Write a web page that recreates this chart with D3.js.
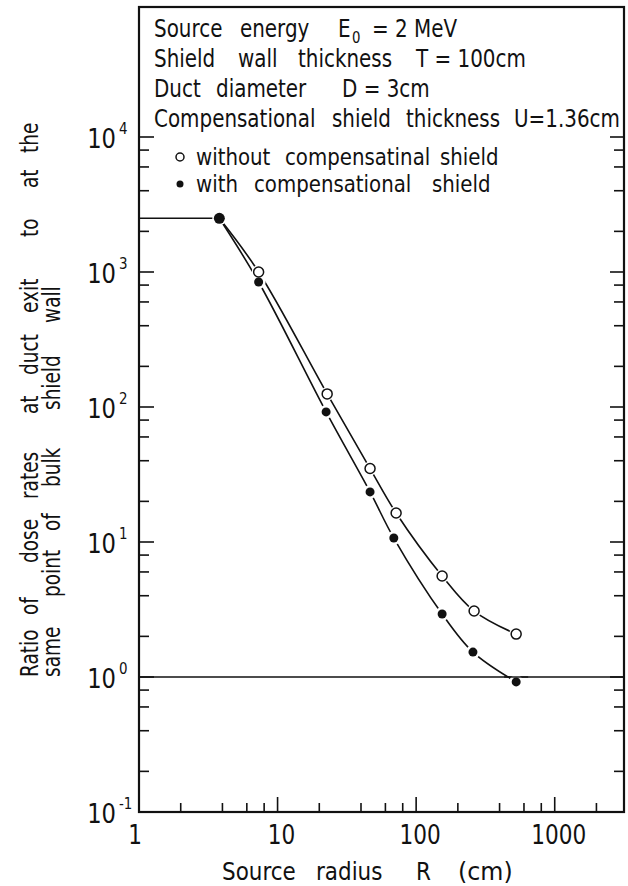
<!DOCTYPE html>
<html lang="en">
<head>
<meta charset="UTF-8">
<title>Duct streaming ratio vs source radius</title>
<script src="https://d3js.org/d3.v7.min.js"></script>
<style>
    body { margin: 0; background: #fff; }
    svg text { font-family: "DejaVu Sans", "Liberation Sans", sans-serif; fill: #111; }
</style>
</head>
<body>
<svg width="628" height="886"></svg>
<script>
    // values
    const radiusOpen   = [3.8, 7.3, 22.8, 46.5, 71.7, 154, 262, 527];
    const ratioOpen    = [2500, 1000, 125, 35, 16.4, 5.6, 3.08, 2.08];
    const radiusFilled = [3.8, 7.3, 22.4, 46.5, 69, 154, 257, 527];
    const ratioFilled  = [2500, 843, 92, 23.5, 10.7, 2.93, 1.53, 0.92];
    const plateauR     = [1, 3.8];
    const plateauV     = [2500, 2500];
    const unityLine    = 1;

    const xMajor = [1, 10, 100, 1000];
    const xMinor = [2, 4, 6, 8, 20, 40, 60, 80, 200, 400, 600, 800, 2000];
    const yMajor = [-1, 0, 1, 2, 3, 4];          // exponents
    const yMinorMant = [2, 4, 6, 8];

    let svg = d3.select("svg");
    const frameL = 139, frameR = 624, frameT = 7, frameB = 812;

    const x = d3.scaleLog().domain([1, Math.pow(10, 3.5)]).range([frameL, frameR]);
    const y = d3.scaleLog().domain([0.1, Math.pow(10, -1 + (frameB - frameT) / 135)]).range([frameB, frameT]);

    // condensed text: the original lettering is tall and narrow
    function word(g, str, px, py, size, k, anchor) {
        return g.append("text")
            .attr("transform", "translate(" + px + "," + py + ") scale(" + k + ",1)")
            .attr("font-size", size)
            .attr("text-anchor", anchor || "start")
            .text(str);
    }

    // frame
    svg.append("rect")
        .attr("x", frameL).attr("y", frameT)
        .attr("width", frameR - frameL).attr("height", frameB - frameT)
        .attr("fill", "none").attr("stroke", "#111").attr("stroke-width", 2.2);

    // y ticks, both sides
    let yTicks = [];
    yMajor.forEach(function (e) {
        yTicks.push({ v: Math.pow(10, e), major: true });
        if (e < 4) yMinorMant.forEach(function (m) { yTicks.push({ v: m * Math.pow(10, e), major: false }); });
    });
    svg.append("g").selectAll("line").data(yTicks).enter().append("line")
        .attr("x1", frameL).attr("x2", function (d) { return frameL + (d.major ? 15 : 10); })
        .attr("y1", function (d) { return y(d.v); }).attr("y2", function (d) { return y(d.v); })
        .attr("stroke", "#111").attr("stroke-width", 1.6);
    svg.append("g").selectAll("line").data(yTicks).enter().append("line")
        .attr("x1", frameR).attr("x2", function (d) { return frameR - (d.major ? 14 : 10); })
        .attr("y1", function (d) { return y(d.v); }).attr("y2", function (d) { return y(d.v); })
        .attr("stroke", "#111").attr("stroke-width", 1.6);

    // x ticks
    let xTicks = xMajor.map(function (v) { return { v: v, major: true }; })
        .concat(xMinor.map(function (v) { return { v: v, major: false }; }));
    svg.append("g").selectAll("line").data(xTicks).enter().append("line")
        .attr("x1", function (d) { return x(d.v); }).attr("x2", function (d) { return x(d.v); })
        .attr("y1", frameB).attr("y2", function (d) { return frameB - (d.major ? 15 : 9); })
        .attr("stroke", "#111").attr("stroke-width", 1.6);

    // y tick labels 10^n
    const yl = svg.append("g");
    yMajor.forEach(function (e) {
        const py = y(Math.pow(10, e));
        word(yl, "10", 116, py + 11, 27, 0.84, "end");
        word(yl, e < 0 ? "-1" : String(e), 119, py - 3, 16, 0.84);
    });

    // x tick labels
    const xl = svg.append("g");
    xMajor.forEach(function (v) {
        word(xl, String(v), x(v) + (v === 1 ? -4 : 4), 844, 27, 0.8, "middle");
    });

    // axis titles
    const xt = svg.append("g");
    word(xt, "Source", 222, 880, 25, 0.86);
    word(xt, "radius", 316, 880, 25, 0.86);
    word(xt, "R", 416, 880, 25, 0.86);
    word(xt, "(cm)", 458, 880, 25, 0.95);

    // y title words: [text, lower end along the axis]
    const yLine1 = [["Ratio", 677], ["of", 615], ["dose", 563], ["rates", 499],
        ["at", 414], ["duct", 375], ["exit", 313], ["to", 237], ["at", 188], ["the", 153]];
    const yLine2 = [["same", 677], ["point", 597], ["of", 531], ["bulk", 487],
        ["shield", 410], ["wall", 323]];
    const yt = svg.append("g").attr("transform", "rotate(-90)");
    yLine1.forEach(function (w) { word(yt, w[0], -w[1], 38, 25, 0.74); });
    yLine2.forEach(function (w) { word(yt, w[0], -w[1], 60, 25, 0.74); });

    // info box text
    const info = svg.append("g");
    const k = 0.83;
    word(info, "Source", 154, 37, 24, k);
    word(info, "energy", 240, 37, 24, k);
    word(info, "E", 338, 37, 24, k);
    word(info, "0", 352, 43, 16, k);
    word(info, "= 2 MeV", 372, 37, 24, k);

    word(info, "Shield", 154, 67, 24, k);
    word(info, "wall", 238, 67, 24, k);
    word(info, "thickness", 298, 67, 24, k);
    word(info, "T = 100cm", 416, 67, 24, k);

    word(info, "Duct", 154, 97, 24, k);
    word(info, "diameter", 216, 97, 24, k);
    word(info, "D = 3cm", 342, 97, 24, k);

    word(info, "Compensational", 154, 127, 24, k);
    word(info, "shield", 332, 127, 24, k);
    word(info, "thickness", 406, 127, 24, k);
    word(info, "U=1.36cm", 514, 127, 24, k);

    // legend
    word(info, "without", 196, 165, 23, 0.86);
    word(info, "compensatinal", 285, 165, 23, 0.86);
    word(info, "shield", 440, 165, 23, 0.86);
    word(info, "with", 196, 192, 23, 0.86);
    word(info, "compensational", 254, 192, 23, 0.86);
    word(info, "shield", 432, 192, 23, 0.86);
    info.append("circle").attr("cx", 180).attr("cy", 157).attr("r", 4)
        .attr("fill", "#fff").attr("stroke", "#111").attr("stroke-width", 1.5);
    info.append("circle").attr("cx", 180).attr("cy", 184).attr("r", 3.5).attr("fill", "#111");

    // reference line at ratio 1 and plateau
    svg.append("line")
        .attr("x1", frameL).attr("x2", frameR)
        .attr("y1", y(unityLine)).attr("y2", y(unityLine))
        .attr("stroke", "#111").attr("stroke-width", 1.4);

    const plateau = plateauR.map(function (r, i) { return { r: r, v: plateauV[i] }; });
    const open = radiusOpen.map(function (r, i) { return { r: r, v: ratioOpen[i] }; });
    const filled = radiusFilled.map(function (r, i) { return { r: r, v: ratioFilled[i] }; });

    const line = d3.line()
        .x(function (d) { return x(d.r); })
        .y(function (d) { return y(d.v); })
        .curve(d3.curveCatmullRom.alpha(0.5));

    [plateau, open, filled].forEach(function (s) {
        svg.append("path").attr("d", line(s))
            .attr("fill", "none").attr("stroke", "#111").attr("stroke-width", 1.6);
    });

    // white halo so the curves stop short of each marker
    const allPts = open.slice(1).concat(filled);
    svg.append("g").selectAll("circle").data(allPts).enter().append("circle")
        .attr("cx", function (d) { return x(d.r); })
        .attr("cy", function (d) { return y(d.v); })
        .attr("r", 7)
        .attr("fill", "#fff");

    svg.append("g").selectAll("circle").data(open.slice(1)).enter().append("circle")
        .attr("cx", function (d) { return x(d.r); })
        .attr("cy", function (d) { return y(d.v); })
        .attr("r", 5)
        .attr("fill", "#fff").attr("stroke", "#111").attr("stroke-width", 1.5);

    svg.append("g").selectAll("circle").data(filled).enter().append("circle")
        .attr("cx", function (d) { return x(d.r); })
        .attr("cy", function (d) { return y(d.v); })
        .attr("r", function (d, i) { return i === 0 ? 5.5 : 4.5; })
        .attr("fill", "#111");

    // the unity line runs across the last filled marker's halo
    svg.append("line")
        .attr("x1", x(radiusFilled[7]) - 12).attr("x2", x(radiusFilled[7]) + 12)
        .attr("y1", y(unityLine)).attr("y2", y(unityLine))
        .attr("stroke", "#111").attr("stroke-width", 1.4);
</script>
</body>
</html>
